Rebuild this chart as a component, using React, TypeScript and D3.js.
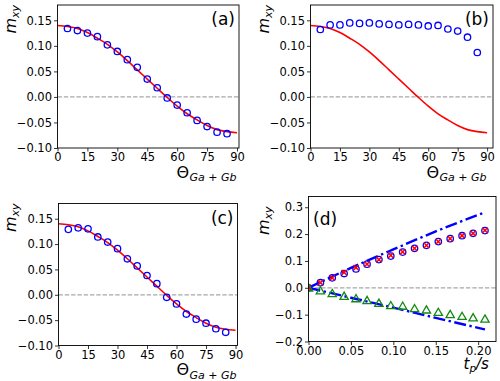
import React, { useEffect, useRef } from 'react';
import * as d3 from 'd3';

// angle sweep (deg) for panels a-c
const angles = [5, 10, 15, 20, 25, 30, 35, 40, 45, 50, 55, 60, 65, 70, 75, 80, 85];
const mxyA = [0.134, 0.130, 0.125, 0.118, 0.102, 0.089, 0.073, 0.058, 0.035, 0.018, -0.002, -0.016, -0.031, -0.046, -0.058, -0.069, -0.072];
const mxyB = [0.132, 0.141, 0.141, 0.145, 0.144, 0.145, 0.143, 0.142, 0.141, 0.142, 0.141, 0.139, 0.140, 0.133, 0.129, 0.117, 0.087];
const mxyC = [0.129, 0.132, 0.130, 0.114, 0.104, 0.091, 0.071, 0.057, 0.038, 0.022, -0.005, -0.018, -0.038, -0.048, -0.056, -0.067, -0.074];

// theory curve (red)
const curveAngles = [0, 5, 10, 15, 20, 25, 30, 35, 40, 45, 50, 55, 60, 65, 70, 75, 80, 85, 90];
const curveMxy = [0.140, 0.138, 0.134, 0.126, 0.115, 0.103, 0.088, 0.071, 0.053, 0.035, 0.017, -0.001, -0.018, -0.033, -0.045, -0.056, -0.064, -0.068, -0.070];

// panel d
const tp = [0, 0.014, 0.028, 0.042, 0.056, 0.069, 0.083, 0.097, 0.111, 0.125, 0.139, 0.153, 0.167, 0.181, 0.194, 0.208];
const mxyCircles = [0, 0.019, 0.037, 0.053, 0.070, 0.088, 0.105, 0.118, 0.133, 0.147, 0.158, 0.172, 0.183, 0.194, 0.203, 0.213];
const mxyCrosses = [0, 0.019, 0.037, 0.057, 0.075, 0.088, 0.105, 0.121, 0.134, 0.147, 0.158, 0.172, 0.183, 0.194, 0.203, 0.214];
const mxyTriangles = [0, -0.011, -0.021, -0.031, -0.040, -0.047, -0.057, -0.066, -0.068, -0.077, -0.082, -0.091, -0.099, -0.106, -0.111, -0.116];
const fitTp = [0, 0.05, 0.10, 0.15, 0.208];
const fitUpper = [0, 0.074, 0.143, 0.210, 0.281];
const fitLower = [0, -0.037, -0.074, -0.112, -0.155];

const angleTicks = [0, 15, 30, 45, 60, 75, 90];
const mxyTicks = [-0.10, -0.05, 0.00, 0.05, 0.10, 0.15];
const tpTicks = [0, 0.05, 0.10, 0.15, 0.20];
const mxyTicksD = [-0.2, -0.1, 0.0, 0.1, 0.2, 0.3];

const FONT = 'DejaVu Sans, sans-serif';

export default function App() {
  const ref = useRef<SVGSVGElement>(null);

  useEffect(() => {
    const svg = d3.select(ref.current);
    svg.selectAll('*').remove();

    const panels = [
      { id: 'a', box: [57.5, 5, 239, 148], xd: [0, 91], yd: [-0.10, 0.18], pts: mxyA, labelX: 'right' },
      { id: 'b', box: [310.5, 5, 493, 148], xd: [0, 93], yd: [-0.10, 0.18], pts: mxyB, labelX: 'right' },
      { id: 'c', box: [58.5, 203.5, 237.5, 345.5], xd: [0, 91], yd: [-0.10, 0.18], pts: mxyC, labelX: 'right' },
      { id: 'd', box: [308.5, 196.5, 496, 341.5], xd: [0, 0.221], yd: [-0.2, 0.34], pts: null, labelX: 'left' },
    ];

    panels.forEach((p) => {
      const [l, t, r, b] = p.box;
      const x = d3.scaleLinear().domain(p.xd).range([l, r]);
      const y = d3.scaleLinear().domain(p.yd).range([b, t]);
      const g = svg.append('g');
      const clipId = `clip-${p.id}`;
      g.append('clipPath').attr('id', clipId)
        .append('rect').attr('x', l).attr('y', t).attr('width', r - l).attr('height', b - t);
      const plot = g.append('g').attr('clip-path', `url(#${clipId})`);

      // zero line
      plot.append('line')
        .attr('x1', l).attr('x2', r).attr('y1', y(0)).attr('y2', y(0))
        .attr('stroke', '#a8a8a8').attr('stroke-width', 1.2).attr('stroke-dasharray', '4.4,1.9');

      const isD = p.id === 'd';

      if (!isD) {
        const line = d3.line<number>()
          .x((_, i) => x(curveAngles[i]))
          .y((d) => y(d))
          .curve(d3.curveMonotoneX);
        plot.append('path').attr('d', line(curveMxy)).attr('fill', 'none')
          .attr('stroke', '#ff0000').attr('stroke-width', 1.6);

        plot.selectAll('circle.pt').data(p.pts as number[]).join('circle')
          .attr('class', 'pt')
          .attr('cx', (_, i) => x(angles[i])).attr('cy', (d) => y(d)).attr('r', 3.2)
          .attr('fill', 'none').attr('stroke', '#0000ff').attr('stroke-width', 1.3);
      } else {
        const fit = d3.line<number>()
          .x((_, i) => x(fitTp[i]))
          .y((d) => y(d))
          .curve(d3.curveMonotoneX);
        [fitUpper, fitLower].forEach((s) => {
          plot.append('path').attr('d', fit(s)).attr('fill', 'none')
            .attr('stroke', '#0000ff').attr('stroke-width', 2.4)
            .attr('stroke-dasharray', '12,3.5,2.4,3.5');
        });
        plot.selectAll('circle.pt').data(mxyCircles).join('circle')
          .attr('class', 'pt')
          .attr('cx', (_, i) => x(tp[i])).attr('cy', (d) => y(d)).attr('r', 3.2)
          .attr('fill', 'none').attr('stroke', '#0000ff').attr('stroke-width', 1.3);
        const xs = 2.6;
        plot.selectAll('path.cross').data(mxyCrosses).join('path')
          .attr('class', 'cross')
          .attr('d', (d, i) => {
            const cx = x(tp[i]);
            const cy = y(d);
            return `M${cx - xs},${cy - xs}L${cx + xs},${cy + xs}M${cx - xs},${cy + xs}L${cx + xs},${cy - xs}`;
          })
          .attr('stroke', '#ff0000').attr('stroke-width', 1.5).attr('fill', 'none');
        const tri = d3.symbol().type(d3.symbolTriangle).size(30);
        plot.selectAll('path.tri').data(mxyTriangles).join('path')
          .attr('class', 'tri')
          .attr('d', tri)
          .attr('transform', (d, i) => `translate(${x(tp[i])},${y(d) + 0.8})`)
          .attr('fill', 'none').attr('stroke', '#128a12').attr('stroke-width', 1.3);
      }

      // axes
      const xAxis = d3.axisBottom(x)
        .tickValues(isD ? tpTicks : angleTicks)
        .tickFormat(isD ? d3.format('.2f') : d3.format('d'))
        .tickSize(3.5).tickPadding(1.5);
      const yAxis = d3.axisLeft(y)
        .tickValues(isD ? mxyTicksD : mxyTicks)
        .tickFormat(isD ? d3.format('.1f') : d3.format('.2f'))
        .tickSize(3.5).tickPadding(2);
      const gx = g.append('g').attr('transform', `translate(0,${b})`).call(xAxis);
      const gy = g.append('g').attr('transform', `translate(${l},0)`).call(yAxis);
      [gx, gy].forEach((ax) => {
        ax.select('.domain').remove();
        ax.selectAll('line').attr('stroke', '#000').attr('stroke-width', 0.8);
        ax.selectAll('text').attr('font-family', FONT).attr('font-size', 11.5).attr('fill', '#000');
      });

      // frame
      g.append('rect').attr('x', l).attr('y', t).attr('width', r - l).attr('height', b - t)
        .attr('fill', 'none').attr('stroke', '#000').attr('stroke-width', 0.9);

      // panel label
      const lab = g.append('text').attr('font-family', FONT).attr('font-size', 17).text(`(${p.id})`);
      if (p.labelX === 'right') lab.attr('x', r - 4).attr('y', t + 20).attr('text-anchor', 'end');
      else lab.attr('x', l + 4.5).attr('y', t + 28);

      // y label
      const yl = (p.id === 'a' || p.id === 'c') ? 15.5 : 268.5;
      const yStart = t + (isD ? 38.5 : 28.5);
      const ylab = g.append('text')
        .attr('transform', `translate(${yl},${yStart}) rotate(-90)`)
        .attr('font-family', FONT).attr('font-size', 16);
      ylab.append('tspan').attr('font-style', 'italic').text('m');
      ylab.append('tspan').attr('font-style', 'italic').attr('font-size', 11).attr('dy', 3.5).text('xy');

      // x label
      const xlab = g.append('text').attr('font-family', FONT).attr('font-size', 16);
      if (!isD) {
        const xs0 = p.id === 'b' ? 426.5 : 176.5;
        xlab.attr('x', xs0).attr('y', b + 29.5);
        xlab.append('tspan').text('Θ');
        xlab.append('tspan').attr('font-size', 11).attr('dy', 3.5).attr('dx', 0.5).attr('font-style', 'italic').text('Ga');
        xlab.append('tspan').attr('font-size', 11).text(' + ');
        xlab.append('tspan').attr('font-size', 11).attr('font-style', 'italic').text('Gb');
      } else {
        xlab.attr('x', 463.5).attr('y', b + 27).attr('font-size', 15);
        xlab.append('tspan').attr('font-style', 'italic').text('t');
        xlab.append('tspan').attr('font-size', 10.5).attr('dy', 3.5).attr('font-style', 'italic').text('p');
        xlab.append('tspan').attr('dy', -3.5).attr('font-style', 'italic').text('/s');
      }
    });
  }, []);

  return (
    <svg
      ref={ref}
      width={500}
      height={381}
      style={{ position: 'absolute', left: 0, top: 0, background: '#fff' }}
    />
  );
}
